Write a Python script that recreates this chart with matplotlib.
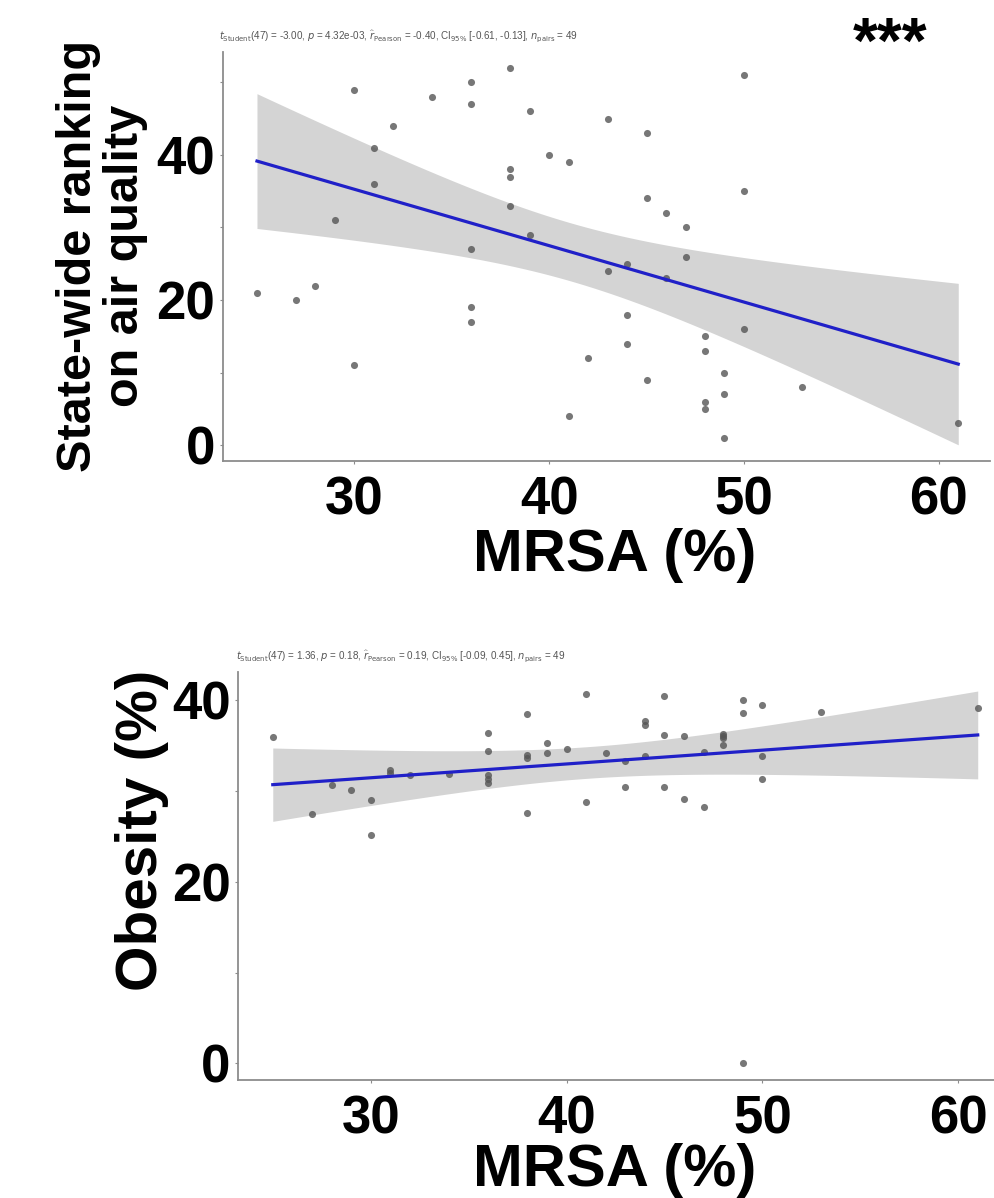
import numpy as np
import matplotlib
matplotlib.use("Agg")
import matplotlib.pyplot as plt
from matplotlib.ticker import MultipleLocator

# ---------------- data ----------------
mrsa_top = [25, 27, 28, 29, 30, 30, 31, 31, 32, 34, 36, 36, 36, 36, 36, 38, 38, 38, 38,
            39, 39, 40, 41, 41, 42, 43, 43, 44, 44, 44, 45, 45, 45, 46, 46, 47, 47,
            48, 48, 48, 48, 49, 49, 49, 50, 50, 50, 53, 61]
air_rank = [21, 20, 22, 31, 49, 11, 41, 36, 44, 48, 50, 47, 27, 19, 17, 52, 38, 37, 33,
            46, 29, 40, 39, 4, 12, 45, 24, 25, 18, 14, 43, 34, 9, 32, 23, 30, 26,
            15, 13, 6, 5, 10, 7, 1, 51, 35, 16, 8, 3]

mrsa_bot = [25, 27, 28, 29, 30, 30, 31, 31, 32, 34, 36, 36, 36, 36, 36, 38, 38, 38, 38,
            39, 39, 40, 41, 41, 42, 43, 43, 44, 44, 44, 45, 45, 45, 46, 46, 47, 47,
            48, 48, 48, 48, 49, 49, 49, 50, 50, 50, 53, 61]
obesity = [35.9, 27.4, 30.6, 30.1, 29.0, 25.1, 32.3, 32.0, 31.7, 31.9, 36.4, 34.4, 31.7, 31.3, 30.9,
           38.4, 33.9, 33.6, 27.6, 35.3, 34.2, 34.6, 40.6, 28.8, 34.2, 30.4, 33.3, 37.7, 37.2, 33.8,
           40.4, 36.1, 30.4, 36.0, 29.1, 34.3, 28.2, 36.2, 36.0, 35.8, 35.0, 40.0, 38.6, 0.0,
           39.4, 33.8, 31.3, 38.7, 39.1]

x_ticks = [30, 40, 50, 60]
y_ticks_top = [0, 20, 40]
y_ticks_bot = [0, 20, 40]

sub_top = (r"$t_{\mathrm{Student}}$(47) = -3.00, $p$ = 4.32e-03, $\widehat{r}_{\mathrm{Pearson}}$ = -0.40, "
           r"CI$_{95\%}$ [-0.61, -0.13], $n_{\mathrm{pairs}}$ = 49")
sub_bot = (r"$t_{\mathrm{Student}}$(47) = 1.36, $p$ = 0.18, $\widehat{r}_{\mathrm{Pearson}}$ = 0.19, "
           r"CI$_{95\%}$ [-0.09, 0.45], $n_{\mathrm{pairs}}$ = 49")

# ---------------- style ----------------
plt.rcParams['font.family'] = ['Liberation Sans', 'DejaVu Sans']
W, H = 994, 1198
fig = plt.figure(figsize=(W / 100, H / 100), dpi=100)

BAND = '#d4d4d4'
LINE = '#2020c8'
PT = '#555555'
SPINE = '#8c8c8c'
TICK_FS = 38
XLAB_FS = 43


def lm_band(x, y, n_grid=80):
    x = np.asarray(x, float)
    y = np.asarray(y, float)
    n = len(x)
    b1, b0 = np.polyfit(x, y, 1)
    resid = y - (b0 + b1 * x)
    s = np.sqrt(np.sum(resid ** 2) / (n - 2))
    sxx = np.sum((x - x.mean()) ** 2)
    xg = np.linspace(x.min(), x.max(), n_grid)
    yg = b0 + b1 * xg
    tcrit = 2.0117  # t(0.975, 47)
    se = s * np.sqrt(1.0 / n + (xg - x.mean()) ** 2 / sxx)
    return xg, yg, yg - tcrit * se, yg + tcrit * se


def panel(rect, x, y, xlim, ylim, yticks):
    ax = fig.add_axes(rect)
    xg, yg, lo, hi = lm_band(x, y)
    ax.fill_between(xg, lo, hi, color=BAND, lw=0, zorder=1)
    ax.scatter(x, y, s=26, color=PT, alpha=0.8, lw=0, zorder=2)
    ax.plot(xg, yg, color=LINE, lw=2.3, zorder=3)
    ax.set_xlim(*xlim)
    ax.set_ylim(*ylim)
    ax.set_xticks(x_ticks)
    ax.set_yticks(yticks)
    ax.yaxis.set_minor_locator(MultipleLocator(10))
    for s in ['top', 'right']:
        ax.spines[s].set_visible(False)
    for s in ['left', 'bottom']:
        ax.spines[s].set_color(SPINE)
        ax.spines[s].set_linewidth(1.3)
    ax.tick_params(axis='both', which='both', color=SPINE, length=2.5, width=0.8)
    ax.tick_params(axis='y', which='major', pad=3)
    ax.tick_params(axis='x', which='major', pad=8)
    for lab in ax.get_xticklabels() + ax.get_yticklabels():
        lab.set_fontsize(TICK_FS)
        lab.set_fontweight('bold')
        lab.set_color('black')
    return ax


# top panel (pixel geometry converted to figure fractions)
L1, R1, T1, B1 = 222.7, 990, 52, 461
ax1 = panel([L1 / W, 1 - B1 / H, (R1 - L1) / W, (B1 - T1) / H],
            mrsa_top, air_rank, (23.24, 62.63), (-2.2, 54.2), y_ticks_top)

# bottom panel
L2, R2, T2, B2 = 238.3, 1012, 672, 1080
ax2 = panel([L2 / W, 1 - B2 / H, (R2 - L2) / W, (B2 - T2) / H],
            mrsa_bot, obesity, (23.24, 62.75), (-1.82, 43.07), y_ticks_bot)

# subtitles
fig.text(219 / W, 1 - 37 / H, sub_top, fontsize=7.1, color='#555555', va='center', ha='left')
fig.text(236 / W, 1 - 657 / H, sub_bot, fontsize=7.1, color='#555555', va='center', ha='left')

# significance stars
fig.text(890 / W, 1 - 46 / H, '***', fontsize=46, fontweight='bold', ha='center', va='center')

# axis labels
fig.text(102 / W, 1 - 256 / H, 'State-wide ranking\non air quality', rotation=90,
         fontsize=35, fontweight='bold', ha='center', va='center', linespacing=1.05)
fig.text(615 / W, 1 - 556 / H, 'MRSA (%)', fontsize=XLAB_FS, fontweight='bold', ha='center', va='center')
fig.text(142 / W, 1 - 830 / H, 'Obesity (%)', rotation=90,
         fontsize=42, fontweight='bold', ha='center', va='center')
fig.text(615 / W, 1 - 1171 / H, 'MRSA (%)', fontsize=XLAB_FS, fontweight='bold', ha='center', va='center')

fig.savefig('out.png', dpi=100, facecolor='white')
